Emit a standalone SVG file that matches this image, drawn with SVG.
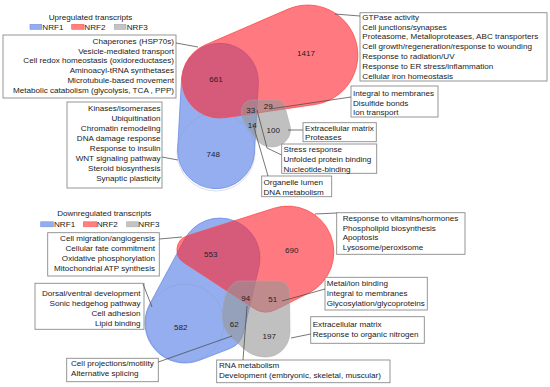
<svg xmlns="http://www.w3.org/2000/svg" width="550" height="387" viewBox="0 0 550 387">
<style>
text{font-family:"Liberation Sans",Arial,sans-serif;font-size:8.1px;fill:#1a1a1a}
.t{font-size:8.1px}
.n{font-size:8px;text-anchor:middle;fill:#222}
.r{text-anchor:end}
.ttl{text-anchor:middle}
.box{fill:#fff;stroke:#8a8a8a;stroke-width:0.9}
.blue{fill:rgb(90,130,230);fill-opacity:0.65;stroke:#6a8ce6;stroke-width:0.8}
.red{fill:rgb(255,40,50);fill-opacity:0.62;stroke:#ff4a4a;stroke-width:0.8}
.grey{fill:rgb(150,150,150);fill-opacity:0.6;stroke:#a9a9a9;stroke-width:0.5}
.faint{fill:none;stroke:#8a97bf;stroke-opacity:0.45;stroke-width:0.7}
.sw1{fill:#93aef0;stroke:#6f90e0;stroke-width:0.6}
.sw2{fill:#ff8080;stroke:#ff5a5a;stroke-width:0.6}
.sw3{fill:#c4c4c4;stroke:#a8a8a8;stroke-width:0.6}
#connectors line,#connectors polyline{stroke:#4a4a4a;stroke-width:0.75;fill:none}
</style>

<!-- Upregulated legend -->
<g id="legend-up">
<text class="ttl" x="90.5" y="19.6">Upregulated transcripts</text>
<rect class="sw1" x="30" y="24.3" width="11.7" height="5"/>
<text x="42.3" y="30.2">NRF1</text>
<rect class="sw2" x="71.7" y="24.3" width="12.3" height="5"/>
<text x="84.3" y="30.2">NRF2</text>
<rect class="sw3" x="114.3" y="24.3" width="11.7" height="5"/>
<text x="126.7" y="30.2">NRF3</text>
</g>

<!-- Upregulated sets -->
<g id="up-nrf1">
<path class="blue" d="M181.6,77.9 A38.5,38.5 0 0,1 258.4,82.1 L254.4,154.1 A38.5,38.5 0 0,1 177.6,149.9 Z"/>
<circle class="faint" cx="216" cy="152" r="39"/>
</g>
<g id="up-nrf2">
<path class="red" d="M204.9,45.1 L288.1,9.1 A50,50 0 1,1 315.2,104.5 L225.5,117.6 A38,38 0 0,1 204.9,45.1 Z"/>
</g>
<g id="up-nrf3">
<path class="grey" d="M253,100 L277,100 C281,100 284,103 285,107 L289,122 C290,125 290.5,128 290.5,130 C290.5,139 282,147 272,147 C264,147 259,143 255,138 L245,124 C242.5,120 241.5,116 241.5,112 C241.5,105 246,100 253,100 Z"/>
</g>
<g id="up-counts">
<text class="n" x="216" y="81.8">661</text>
<text class="n" x="306" y="55.6">1417</text>
<text class="n" x="213.3" y="157.2">748</text>
<text class="n" x="250.7" y="112.9">33</text>
<text class="n" x="268.3" y="109.4">29</text>
<text class="n" x="252.3" y="127.9">14</text>
<text class="n" x="273.3" y="133.2">100</text>
</g>

<!-- Upregulated boxes -->
<g id="box-up-nrf12">
<rect class="box" x="3" y="35" width="173" height="63"/>
<text class="r" x="174" y="43.6">Chaperones (HSP70s)</text>
<text class="r" x="174" y="53.5">Vesicle-mediated transport</text>
<text class="r" x="174" y="63.3">Cell redox homeostasis (oxidoreductases)</text>
<text class="r" x="174" y="73.2">Aminoacyl-tRNA synthetases</text>
<text class="r" x="174" y="83">Microtubule-based movement</text>
<text class="r" x="174" y="92.9">Metabolic catabolism (glycolysis, TCA , PPP)</text>
</g>
<g id="box-up-nrf1">
<rect class="box" x="67" y="102" width="95" height="86"/>
<text class="r" x="160.5" y="111.2">Kinases/isomerases</text>
<text class="r" x="160.5" y="121.1">Ubiquitination</text>
<text class="r" x="160.5" y="131">Chromatin remodeling</text>
<text class="r" x="160.5" y="140.9">DNA damage response</text>
<text class="r" x="160.5" y="150.8">Response to insulin</text>
<text class="r" x="160.5" y="160.8">WNT signaling pathway</text>
<text class="r" x="160.5" y="170.7">Steroid biosynthesis</text>
<text class="r" x="160.5" y="180.6">Synaptic plasticity</text>
</g>
<g id="box-up-nrf2">
<rect class="box" x="360" y="12.7" width="187" height="68.3"/>
<text x="362.3" y="19.6">GTPase activity</text>
<text x="362.3" y="29.5">Cell junctions/synapses</text>
<text x="362.3" y="39.4">Proteasome, Metalloproteases, ABC transporters</text>
<text x="362.3" y="49.2">Cell growth/regeneration/response to wounding</text>
<text x="362.3" y="59.1">Response to radiation/UV</text>
<text x="362.3" y="69">Response to ER stress/inflammation</text>
<text x="362.3" y="78.9">Cellular iron homeostasis</text>
</g>
<g id="box-up-nrf23">
<rect class="box" x="351" y="86" width="87" height="31"/>
<text x="353" y="95.6">Integral to membranes</text>
<text x="353" y="105.5">Disulfide bonds</text>
<text x="353" y="115.4">Ion transport</text>
</g>
<g id="box-up-nrf3">
<rect class="box" x="303" y="122.7" width="73.3" height="19"/>
<text x="305" y="130.6">Extracellular matrix</text>
<text x="305" y="140.4">Proteases</text>
</g>
<g id="box-up-all">
<rect class="box" x="281.7" y="144" width="95" height="29.3"/>
<text x="283.5" y="151.9">Stress response</text>
<text x="283.5" y="161.8">Unfolded protein binding</text>
<text x="283.5" y="171.7">Nucleotide-binding</text>
</g>
<g id="box-up-nrf13">
<rect class="box" x="261.7" y="176" width="70" height="20.7"/>
<text x="263.5" y="184.6">Organelle lumen</text>
<text x="263.5" y="194.5">DNA metabolism</text>
</g>

<!-- Downregulated legend -->
<g id="legend-down">
<text class="ttl" x="104.2" y="215.6">Downregulated transcripts</text>
<rect class="sw1" x="40.7" y="221.8" width="12.6" height="5"/>
<text x="54" y="227.2">NRF1</text>
<rect class="sw2" x="83.3" y="221.8" width="13.4" height="5"/>
<text x="96.7" y="227.2">NRF2</text>
<rect class="sw3" x="126.7" y="221.8" width="11.6" height="5"/>
<text x="138.3" y="227.2">NRF3</text>
</g>

<!-- Downregulated sets -->
<g id="down-nrf1">
<path class="blue" d="M184.8,239 A40,40 0 0,1 258.9,267.2 L243.4,333 A22,22 0 0,1 229.9,348.5 L199.4,360.3 A40,40 0 0,1 149.8,304 Z"/>
<circle class="faint" cx="185" cy="323" r="39"/>
</g>
<g id="down-nrf2">
<path class="red" d="M187.5,235.7 L274.1,208.2 A46,46 0 0,1 308.7,293.1 L275.9,309.6 A22,22 0 0,1 254,308.4 L183.8,262.6 A15,15 0 0,1 187.5,235.7 Z"/>
</g>
<g id="down-nrf3">
<path class="grey" d="M240,281 L279,281 C285,281 289,286 289.5,293 L290,331 C290,346 279,357 266,357 C257,357 250,354 244,349 L230,336 C225,331 222.5,325 222.5,316 C222.5,302 226,290 232,285 C234.5,282.5 237,281 240,281 Z"/>
</g>
<g id="down-counts">
<text class="n" x="210.7" y="256.9">553</text>
<text class="n" x="291.7" y="252.9">690</text>
<text class="n" x="180.7" y="329.6">582</text>
<text class="n" x="245.7" y="301.2">94</text>
<text class="n" x="272.7" y="302.2">51</text>
<text class="n" x="234.3" y="326.9">62</text>
<text class="n" x="269.3" y="338.6">197</text>
</g>

<!-- Downregulated boxes -->
<g id="box-down-nrf12">
<rect class="box" x="47.7" y="232.7" width="111.6" height="43.3"/>
<text class="r" x="155" y="241.2">Cell migration/angiogensis</text>
<text class="r" x="155" y="251.1">Cellular fate commitment</text>
<text class="r" x="155" y="261">Oxidative phosphorylation</text>
<text class="r" x="155" y="270.9">Mitochondrial ATP synthesis</text>
</g>
<g id="box-down-nrf1">
<rect class="box" x="35" y="283.3" width="109" height="46"/>
<text class="r" x="140.5" y="296.2">Dorsal/ventral development</text>
<text class="r" x="140.5" y="306.1">Sonic hedgehog pathway</text>
<text class="r" x="140.5" y="316">Cell adhesion</text>
<text class="r" x="140.5" y="325.9">Lipid binding</text>
</g>
<g id="box-down-nrf13">
<rect class="box" x="66.7" y="358.3" width="91.6" height="23.4"/>
<text x="71" y="366.2">Cell projections/motility</text>
<text x="71" y="376.1">Alternative splicing</text>
</g>
<g id="box-down-all">
<rect class="box" x="216.7" y="360" width="173.3" height="22.7"/>
<text x="219" y="367.9">RNA metabolism</text>
<text x="219" y="377.8">Development (embryonic, skeletal, muscular)</text>
</g>
<g id="box-down-nrf2">
<rect class="box" x="336.7" y="212.7" width="128.3" height="41.6"/>
<text x="342.7" y="220.6">Response to vitamins/hormones</text>
<text x="342.7" y="230.5">Phospholipid biosynthesis</text>
<text x="342.7" y="240.4">Apoptosis</text>
<text x="342.7" y="250.3">Lysosome/peroxisome</text>
</g>
<g id="box-down-nrf23">
<rect class="box" x="325" y="277.3" width="102.3" height="32.7"/>
<text x="326.7" y="286.2">Metal/ion binding</text>
<text x="326.7" y="296.1">Integral to membranes</text>
<text x="326.7" y="306">Glycosylation/glycoproteins</text>
</g>
<g id="box-down-nrf3">
<rect class="box" x="310.7" y="316.7" width="113.6" height="26.6"/>
<text x="312.7" y="327.2">Extracellular matrix</text>
<text x="312.7" y="337.1">Response to organic nitrogen</text>
</g>

<g id="connectors">
<line x1="176" y1="43" x2="198" y2="47"/>
<line x1="162" y1="157" x2="178" y2="160"/>
<line x1="335" y1="14" x2="360" y2="16"/>
<line x1="270" y1="109" x2="351" y2="97"/>
<line x1="288" y1="130" x2="303" y2="130"/>
<polyline points="257,110 267,148 281.7,155"/>
<line x1="253" y1="124" x2="268" y2="176"/>
<line x1="159.3" y1="239" x2="182" y2="237"/>
<line x1="143" y1="284" x2="152" y2="307"/>
<line x1="158.3" y1="362" x2="232" y2="336"/>
<line x1="247" y1="306" x2="243" y2="360"/>
<line x1="315" y1="214" x2="336.7" y2="213"/>
<line x1="282" y1="301" x2="325" y2="289"/>
<line x1="291" y1="338" x2="310.7" y2="334"/>
</g>
</svg>
